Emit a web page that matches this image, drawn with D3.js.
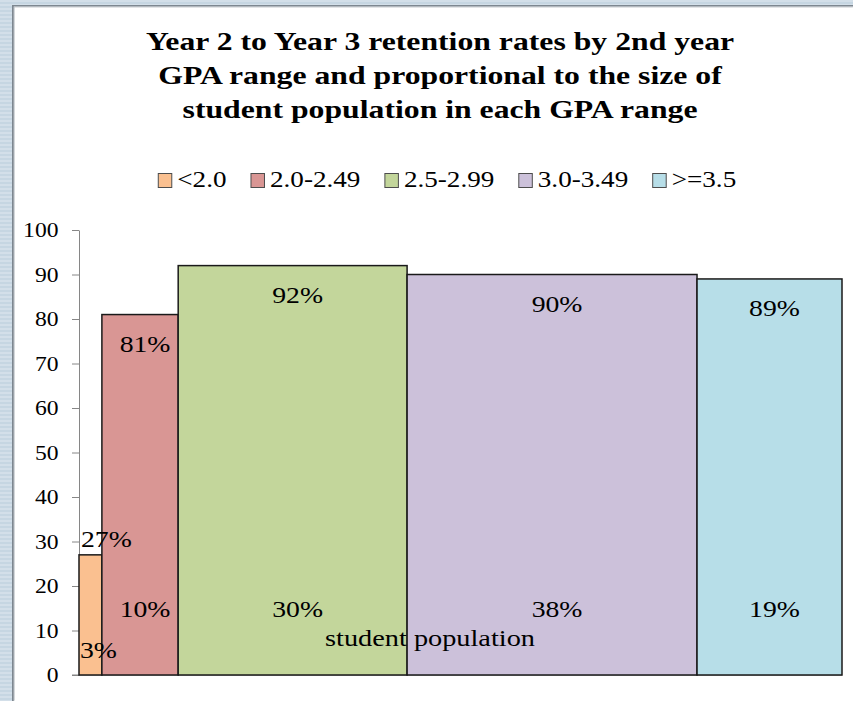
<!DOCTYPE html>
<html>
<head>
<meta charset="utf-8">
<style>
  body { margin: 0; background: #fff; }
  svg text { font-family: "Liberation Serif", "Times New Roman", serif; fill: #000; }
  .bar { stroke: #1a1a1a; stroke-width: 1.5px; }
  .yaxis path, .yaxis line { stroke: #868686; }
</style>
</head>
<body>
<svg width="853" height="701"></svg>
<script src="https://d3js.org/d3.v7.min.js"></script>
<script>
// GPA ranges, retention rate (%) and share of student population (%)
var groups = ["<2.0", "2.0-2.49", "2.5-2.99", "3.0-3.49", ">=3.5"];
var retention = [27, 81, 92, 90, 89];
var population = [3, 10, 30, 38, 19];
var colors = ["#FAC090", "#D99694", "#C3D69B", "#CCC1DA", "#B7DEE8"];
var yTicks = [0, 10, 20, 30, 40, 50, 60, 70, 80, 90, 100];
var titleLines = ["Year 2 to Year 3 retention rates by 2nd year",
                  "GPA range and proportional to the size of",
                  "student population in each GPA range"];

var sx = 1.18; // text in the picture is stretched sideways

var svg = d3.select("svg");

// slide frame (striped band on left and top)
var pat = svg.append("defs").append("pattern")
    .attr("id", "stripes").attr("width", 4).attr("height", 4)
    .attr("patternUnits", "userSpaceOnUse");
pat.append("rect").attr("width", 4).attr("height", 4).attr("fill", "#c6d6e2");
pat.append("rect").attr("width", 4).attr("height", 2).attr("fill", "#d3dfe9");
svg.append("rect").attr("x", 0).attr("y", 0).attr("width", 853).attr("height", 5).attr("fill", "url(#stripes)");
svg.append("rect").attr("x", 0).attr("y", 0).attr("width", 12).attr("height", 701).attr("fill", "url(#stripes)");
svg.append("rect").attr("x", 12).attr("y", 5).attr("width", 841).attr("height", 1.6).attr("fill", "#7d8790");
svg.append("rect").attr("x", 12).attr("y", 5).attr("width", 1.8).attr("height", 696).attr("fill", "#7d8790");
svg.append("rect").attr("x", 13.8).attr("y", 6.6).attr("width", 839).attr("height", 0.8).attr("fill", "#b8bec4");
svg.append("rect").attr("x", 13.8).attr("y", 6.6).attr("width", 0.8).attr("height", 694).attr("fill", "#b8bec4");

function stretched(sel, x, y, k) {
  return sel.attr("transform", "translate(" + x + "," + y + ") scale(" + (k || sx) + ",1)");
}

// title
titleLines.forEach(function(t, i) {
  stretched(svg.append("text"), 440, 49.5 + i * 34, 1.22)
    .attr("text-anchor", "middle")
    .style("font-size", "26px").style("font-weight", "bold")
    .text(t);
});

// legend
var leg = svg.append("g");
var lx = 0;
groups.forEach(function(g, i) {
  var it = leg.append("g").attr("transform", "translate(" + lx + ",0)");
  it.append("rect").attr("x", 0.5).attr("y", -13).attr("width", 13.5).attr("height", 14)
    .attr("fill", colors[i]).attr("stroke", "#4d4d4d").attr("stroke-width", 1);
  var tx = stretched(it.append("text"), 19.5, 0).style("font-size", "23px").text(g);
  lx += 19.5 + tx.node().getComputedTextLength() * sx + 24;
});
lx -= 24;
leg.attr("transform", "translate(" + (447 - lx / 2) + ",186.5)");

// scales
var x = d3.scaleLinear().domain([0, 100]).range([79, 842]);
var y = d3.scaleLinear().domain([0, 100]).range([675, 230]);

// y axis
var yAxis = svg.append("g").attr("class", "yaxis")
    .attr("transform", "translate(79,0)")
    .call(d3.axisLeft(y).tickValues(yTicks).tickSize(7).tickSizeOuter(0));
yAxis.selectAll("text")
    .attr("x", -20.5 / sx).attr("dy", "0.34em")
    .attr("transform", "scale(" + sx + ",1)")
    .style("font-size", "20px").style("font-family", "Liberation Serif, serif")
    .attr("fill", "#000");

// bottom line
svg.append("line").attr("x1", 72).attr("x2", x(100)).attr("y1", y(0)).attr("y2", y(0))
    .attr("stroke", "#868686");

// variable width bars
var start = 0;
var bars = population.map(function(p, i) {
  var b = {x0: start, x1: start + p, r: retention[i], p: p, c: colors[i]};
  start += p;
  return b;
});

svg.selectAll("rect.bar").data(bars).enter().append("rect")
    .attr("class", "bar")
    .attr("x", function(d) { return x(d.x0); })
    .attr("y", function(d) { return y(d.r); })
    .attr("width", function(d) { return x(d.x1) - x(d.x0); })
    .attr("height", function(d) { return y(0) - y(d.r); })
    .attr("fill", function(d) { return d.c; });

// labels
bars.forEach(function(d) {
  var w = x(d.x1) - x(d.x0);
  var narrow = w < 40;
  var mid = (x(d.x0) + x(d.x1)) / 2 + 5;
  stretched(svg.append("text"), narrow ? x(d.x0) + 2 : mid, narrow ? y(d.r) - 8 : y(d.r) + 37)
    .attr("text-anchor", narrow ? "start" : "middle")
    .style("font-size", "23.5px")
    .text(d.r + "%");
  stretched(svg.append("text"), narrow ? x(d.x0) + 1 : mid, narrow ? 658 : 617)
    .attr("text-anchor", narrow ? "start" : "middle")
    .style("font-size", "23.5px")
    .text(d.p + "%");
});

stretched(svg.append("text"), 430, 646)
  .attr("text-anchor", "middle")
  .style("font-size", "24px")
  .text("student population");
</script>
</body>
</html>
